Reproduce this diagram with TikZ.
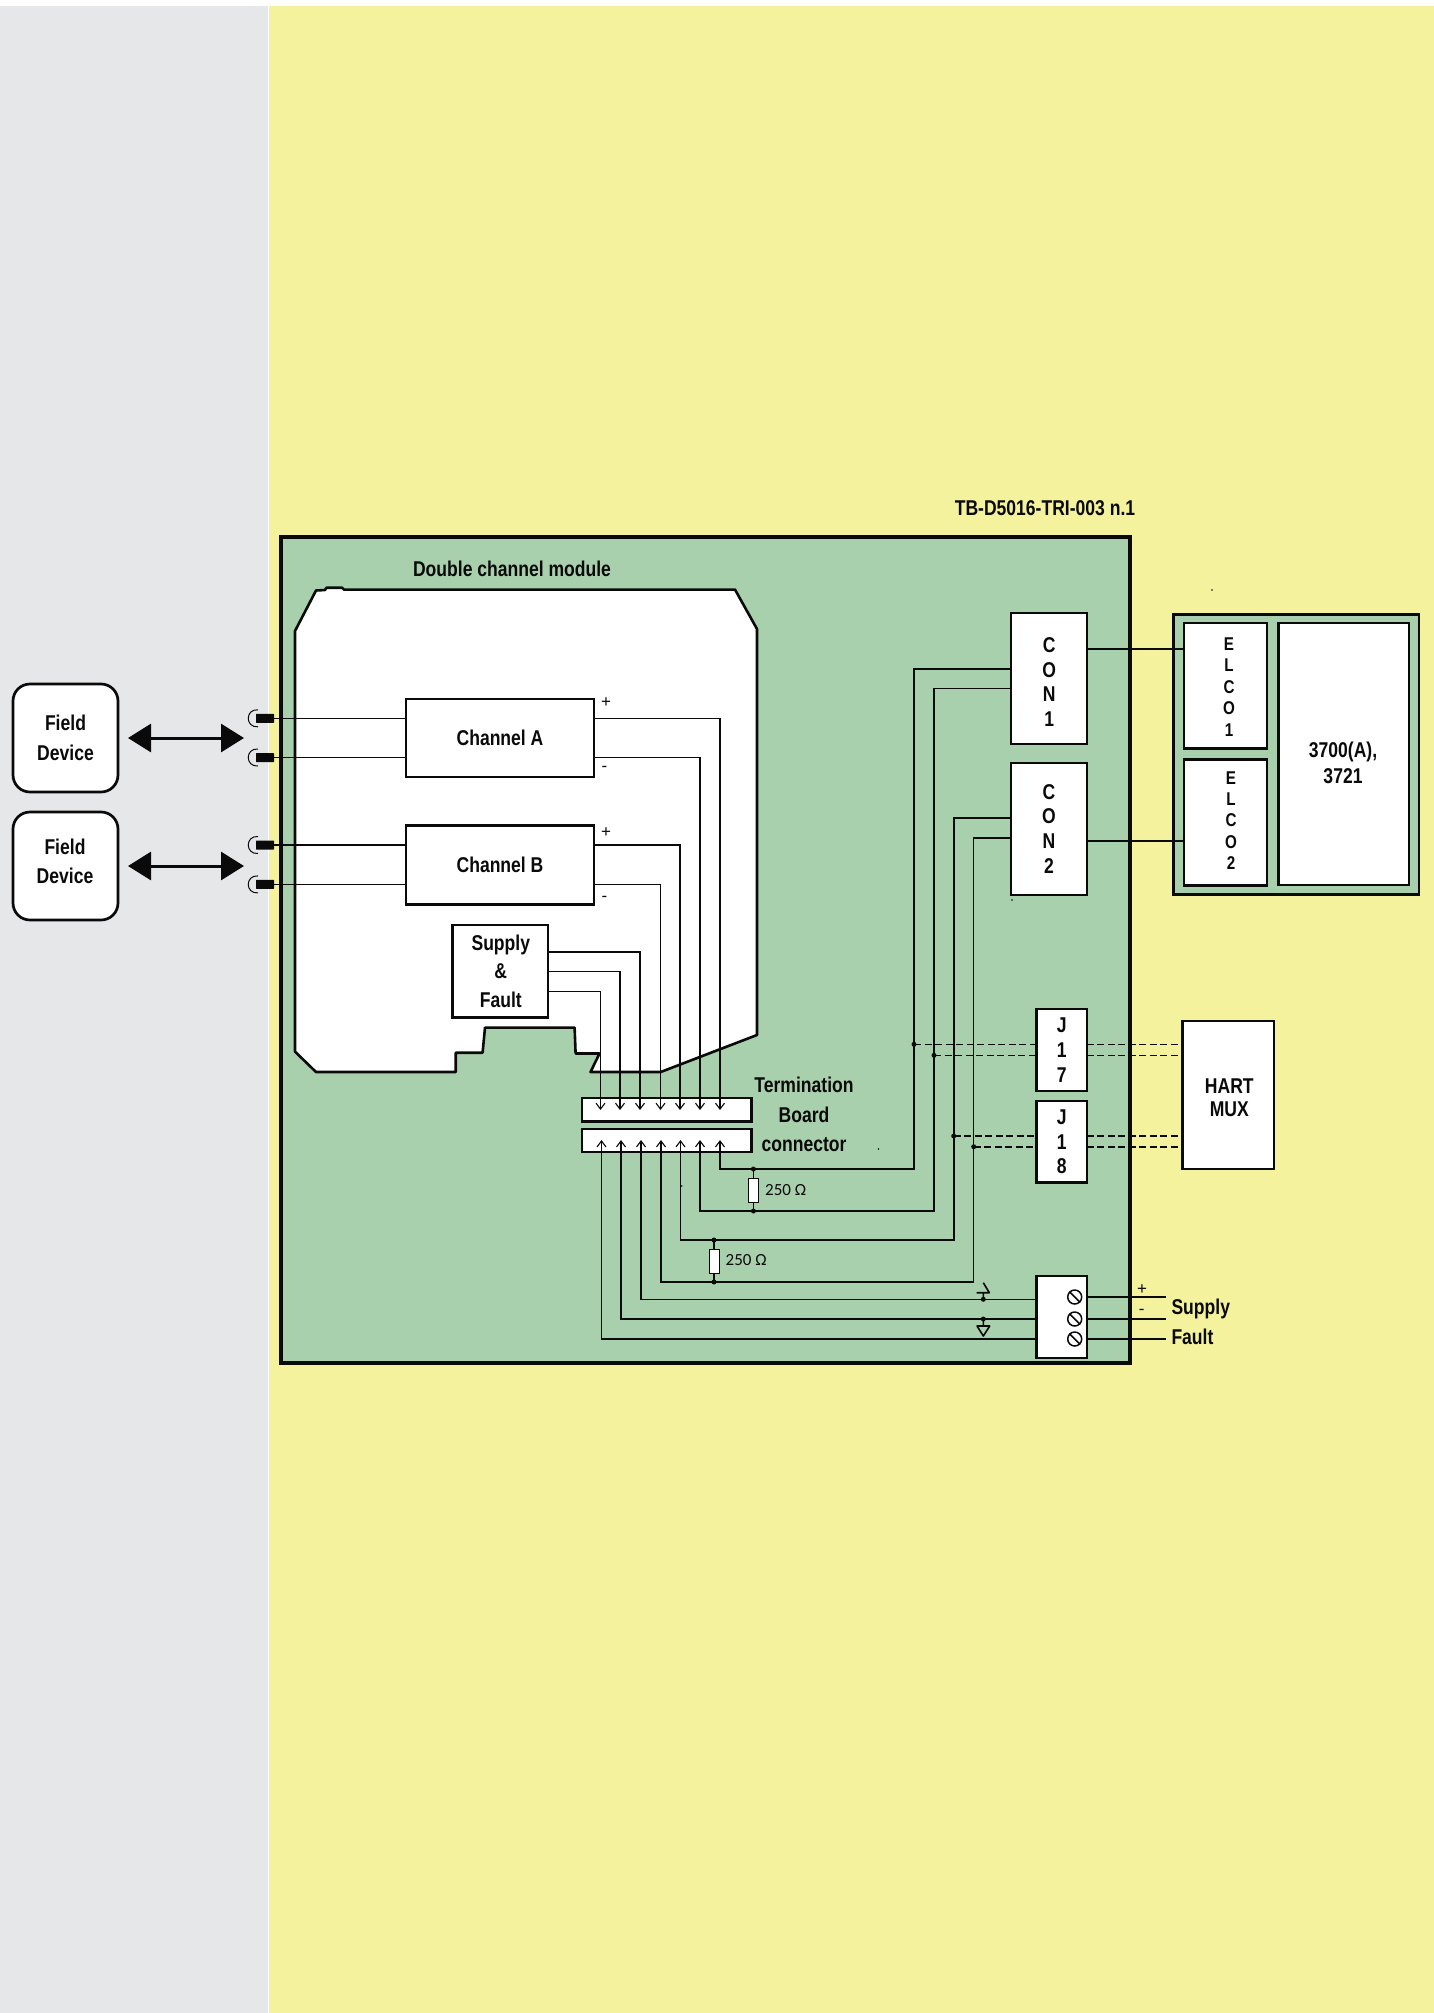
\documentclass[tikz,border=0pt]{standalone}
\usepackage{fontspec}
\setmainfont{Liberation Sans}[FakeStretch=0.82]
\newfontfamily\ohmfont{Carlito}
\newfontfamily\signfont{Liberation Sans}
\usetikzlibrary{arrows.meta,calc}
\definecolor{pagegray}{HTML}{E6E7E9}
\definecolor{pageyellow}{HTML}{F5F29E}
\definecolor{boardgreen}{HTML}{A9D0AD}
\definecolor{ink}{HTML}{0A0A0A}
\tikzset{
  x=1pt,y=-1pt,
  lbl/.style={inner sep=0pt,outer sep=0pt,align=center,text=ink,font=\bfseries\fontsize{21.4}{24.7}\selectfont},
  lblwide/.style={lbl,font=\bfseries\fontsize{21.4}{29.6}\selectfont},
  lblsmall/.style={lbl,font=\bfseries\fontsize{18.5}{21.4}\selectfont},
  box/.style={lbl,draw=ink,fill=white,line width=2.7pt},
  thinbox/.style={box,line width=1.8pt},
  field/.style={box,rounded corners=17pt,minimum width=105pt},
  terminal/.style={fill=ink,rounded corners=0.5pt,inner sep=0pt,outer sep=0pt,minimum width=18pt,minimum height=9pt},
  wire/.style={draw=ink,line width=1.6pt},
  hart/.style={wire,dash pattern=on 7pt off 3.5pt},
  tip/.style={wire,-{Straight Barb[length=6pt,width=9pt,line width=1.1pt]}},
  bigarrow/.style={draw=ink,line width=3pt,{Triangle[length=23pt,width=28pt]}-{Triangle[length=23pt,width=28pt]}},
  resistor/.style={draw=ink,fill=white,line width=1pt,inner sep=0pt,outer sep=0pt,minimum width=10pt,minimum height=24pt},
  ohm/.style={inner sep=0pt,text=ink,font=\ohmfont\fontsize{17}{20}\selectfont},
  sign/.style={inner sep=0pt,text=ink,font=\signfont\fontsize{17}{20}\selectfont},
  dot/.style={fill=ink,circle,inner sep=0pt,minimum size=5pt},
  speck/.style={fill=ink,circle,inner sep=0pt,minimum size=1.8pt},
  screw/.style={draw=ink,fill=white,circle,line width=1.5pt,inner sep=0pt,minimum size=14pt},
}
\begin{document}
\begin{tikzpicture}
\useasboundingbox (0,0) rectangle (1434,2013);
% page
\fill[white] (0,0) rectangle (1434,2013);
\fill[pagegray] (0,6) rectangle (268,2013);
\fill[pageyellow] (269,6) rectangle (1434,2013);
% board
\draw[draw=ink,fill=boardgreen,line width=4.4pt] (281,537) rectangle (1130,1363);
\node[lbl] (title) at (1045,508.5) {TB-D5016-TRI-003 n.1};
\node[lbl] (modt) at (512,569) {Double channel module};
% module outline
\draw[draw=ink,fill=white,line width=2.6pt,line join=round]
 (295,631) -- (316,590.5) -- (325,590) -- (326.5,587.7) -- (342,587.7) -- (344,589.6) -- (735,589.6)
 -- (757,629) -- (757,1035) -- (660.7,1072) -- (590.5,1072) -- (599.5,1053.5) -- (575.6,1053.5)
 -- (574.6,1027.6) -- (485,1027.6) -- (482.6,1052.7) -- (455.7,1052.7) -- (455.7,1072) -- (316,1072)
 -- (295,1051.6) -- cycle;
% field side
\node[field,minimum height=108pt] (fd1) at (65.5,738) {Field\\[5pt]Device};
\node[field,minimum height=108pt] (fd2) at (65.5,866) {};
\node[lblwide] (fd2t) at (65,861.5) {Field\\Device};
\coordinate (ar1l) at (128,738); \coordinate (ar1r) at (244,738);
\coordinate (ar2l) at (128,866); \coordinate (ar2r) at (244,866);
\draw[bigarrow] (ar1l) -- (ar1r);
\draw[bigarrow] (ar2l) -- (ar2r);
\node[terminal] (t1) at (265,718.3) {};
\node[terminal] (t2) at (265,757.5) {};
\node[terminal] (t3) at (265,845) {};
\node[terminal] (t4) at (265,884.4) {};
\foreach \t in {t1,t2,t3,t4}{
  \draw[draw=ink,line width=1pt] ([xshift=2pt,yshift=8.5pt]\t.west) .. controls +(-13pt,1pt) and +(-13pt,-1pt) .. ([xshift=2pt,yshift=-8.5pt]\t.west);
}
% module blocks
\node[box,minimum width=188pt,minimum height=78pt] (chA) at (500,738) {\raisebox{1.5pt}{Channel A}};
\node[box,minimum width=188pt,minimum height=79.6pt] (chB) at (500,865) {Channel B};
\node[box,minimum width=95.3pt,minimum height=92.6pt,font=\bfseries\fontsize{21.4}{28.8}\selectfont] (sup) at (500.3,971.3) {\hspace*{1pt}Supply\\\hspace*{1pt}\&\\\hspace*{1pt}Fault};
\node[sign] at (606,702.8) {+};
\node[sign] at (604.5,768.5) {-};
\node[sign] at (606,832.6) {+};
\node[sign] at (604.5,898.5) {-};
% termination board connector
\node[box,minimum width=169.5pt,minimum height=23.7pt] (tbu) at (666.8,1109.8) {};
\node[box,minimum width=169.5pt,minimum height=23pt] (tbl) at (666.8,1140.5) {};
\node[lblwide] (tbt) at (804,1114.5) {Termination\\Board\\connector};
\coordinate (a1) at (600.5,1110); \coordinate (a2) at (620,1110); \coordinate (a3) at (640,1110);
\coordinate (a4) at (660.5,1110); \coordinate (a5) at (680,1110); \coordinate (a6) at (700,1110); \coordinate (a7) at (720,1110);
\coordinate (b1) at (601.5,1140); \coordinate (b2) at (621,1140); \coordinate (b3) at (641,1140);
\coordinate (b4) at (661,1140); \coordinate (b5) at (680.5,1140); \coordinate (b6) at (700,1140); \coordinate (b7) at (720,1140);
% wires field to channels
\draw[wire] (t1.east) -- (t1.east -| chA.west);
\draw[wire] (t2.east) -- (t2.east -| chA.west);
\draw[wire] (t3.east) -- (t3.east -| chB.west);
\draw[wire] (t4.east) -- (t4.east -| chB.west);
% wires channels to connector
\draw[tip] (t1 -| chA.east) -| (a7);
\draw[tip] (t2 -| chA.east) -| (a6);
\draw[tip] (t3 -| chB.east) -| (a5);
\draw[tip] (t4 -| chB.east) -| (a4);
\coordinate (s1) at (548,951.7); \coordinate (s2) at (548,971.4); \coordinate (s3) at (548,991.3);
\draw[tip] (s1) -| (a3);
\draw[tip] (s2) -| (a2);
\draw[tip] (s3) -| (a1);
% right side blocks
\node[thinbox,minimum width=76.3pt,minimum height=131.3pt] (con1) at (1048.9,678.4) {};
\node[lbl] (con1t) at (1049.3,682) {C\\O\\N\\1};
\node[thinbox,minimum width=76.3pt,minimum height=132pt] (con2) at (1048.9,828.7) {C\\O\\N\\2};
\node[box,minimum width=50.3pt,minimum height=82pt] (j17) at (1061.8,1050) {J\\1\\7};
\node[box,minimum width=50.3pt,minimum height=81.7pt] (j18) at (1061.8,1141.8) {J\\1\\8};
\node[box,minimum width=50.3pt,minimum height=82pt] (tblock) at (1061.8,1317) {};
\node[box,minimum width=91.3pt,minimum height=148pt,line width=2.6pt] (hmux) at (1228.3,1095) {};
\node[lbl,font=\bfseries\fontsize{21.4}{23.5}\selectfont] (hmuxt) at (1229.3,1097.5) {HART\\MUX};
% system
\draw[draw=ink,fill=boardgreen,line width=2.6pt] (1173.3,614.3) rectangle (1419,894.7);
\node[box,minimum width=83pt,minimum height=125.7pt] (elco1) at (1225.5,685.8) {};
\node[lblsmall] (elco1t) at (1229,687) {E\\L\\C\\O\\1};
\node[box,minimum width=83pt,minimum height=126pt] (elco2) at (1225.5,822.3) {};
\node[lblsmall] (elco2t) at (1231,820.5) {E\\L\\C\\O\\2};
\node[box,minimum width=130.4pt,minimum height=262pt] (tric) at (1343.8,754) {};
\node[lbl,font=\bfseries\fontsize{21.4}{26}\selectfont] (trict) at (1343,763) {3700(A),\\3721};
\draw[wire] (con1.east |- 0,649) -- (elco1.west |- 0,649);
\draw[wire] (con2.east |- 0,840.7) -- (elco2.west |- 0,840.7);
% wires to CON
\coordinate (k1) at (914,1169); \coordinate (k2) at (934,1211); \coordinate (k3) at (954,1240); \coordinate (k4) at (973.5,1282);
\draw[tip] (con1.west |- 0,668.7) -| (k1) -- (k1 -| b7) -- (b7);
\draw[tip] (con1.west |- 0,688.3) -| (k2) -- (k2 -| b6) -- (b6);
\draw[tip] (con2.west |- 0,818) -| (k3) -- (k3 -| b5) -- (b5);
\draw[tip] (con2.west |- 0,838) -| (k4) -- (k4 -| b4) -- (b4);
% wires to terminal block
\coordinate (m1) at (1037,1299.3); \coordinate (m2) at (1037,1319); \coordinate (m3) at (1037,1338.7);
\draw[tip] (m1) -| (b3);
\draw[tip] (m2) -| (b2);
\draw[tip] (m3) -| (b1);
% resistors
\coordinate (r1t) at (753.4,1169); \coordinate (r1b) at (753.4,1211);
\coordinate (r2t) at (714,1240); \coordinate (r2b) at (714,1282);
\draw[wire] (r1t) -- (r1b);
\draw[wire] (r2t) -- (r2b);
\node[resistor] (r1) at (753.4,1190) {};
\node[resistor] (r2) at (714,1261) {};
\node[dot] at (r1t) {}; \node[dot] at (r1b) {};
\node[dot] at (r2t) {}; \node[dot] at (r2b) {};
\node[ohm,anchor=west] (r1l) at (765,1190) {250 Ω};
\node[ohm,anchor=west] (r2l) at (725.5,1260.5) {250 Ω};
% HART dashed lines
\coordinate (d1) at (914,1044.3); \coordinate (d2) at (934,1055.3); \coordinate (d3) at (953.7,1136); \coordinate (d4) at (973.7,1146.7);
\node[dot] at (d1) {}; \node[dot] at (d2) {}; \node[dot] at (d3) {}; \node[dot] at (d4) {};
\draw[hart] (d1) -- (d1 -| j17.west); \draw[hart] (d1 -| j17.east) -- (d1 -| hmux.west);
\draw[hart] (d2) -- (d2 -| j17.west); \draw[hart] (d2 -| j17.east) -- (d2 -| hmux.west);
\draw[hart] (d3) -- (d3 -| j18.west); \draw[hart] (d3 -| j18.east) -- (d3 -| hmux.west);
\draw[hart] (d4) -- (d4 -| j18.west); \draw[hart] (d4 -| j18.east) -- (d4 -| hmux.west);
% screws
\foreach \n/\yy in {sc1/1297,sc2/1319,sc3/1339}{
  \node[screw] (\n) at (1074.7,\yy) {};
  \draw[draw=ink,line width=1.5pt] (\n.north west) -- (\n.south east);
}
% supply and fault
\coordinate (o1) at (1166,1296.7); \coordinate (o2) at (1166,1319); \coordinate (o3) at (1166,1338.7);
\draw[wire,line width=1.7pt] (tblock.east |- o1) -- (o1);
\draw[wire,line width=1.7pt] (tblock.east |- o2) -- (o2);
\draw[wire,line width=1.7pt] (tblock.east |- o3) -- (o3);
\node[sign] at (1142,1289.7) {+};
\node[sign] at (1141.7,1312) {-};
\node[lbl,anchor=west] (supl) at (1171.5,1308.5) {Supply};
\node[lbl,anchor=west] (faul) at (1171.5,1337) {Fault};
% switch symbol
\coordinate (swd) at (983.3,1299.3);
\node[dot] at (swd) {};
\draw[wire,line join=round] (swd) -- ++(0,-6.6) (976.7,1292.7) -- (989.3,1292.7) -- (983.3,1282.7);
% ground symbol
\coordinate (gnd) at (983.3,1319);
\node[dot] at (gnd) {};
\draw[wire,line join=round] (gnd) -- ++(0,7) (977,1326) -- (989.7,1326) -- (983.3,1336) -- cycle;
% specks
\node[speck] at (878.5,1149) {};
\node[speck] at (1212,590) {};
\node[speck] at (1012,900) {};
\node[speck] at (681.7,1186) {};
\end{tikzpicture}
\end{document}
